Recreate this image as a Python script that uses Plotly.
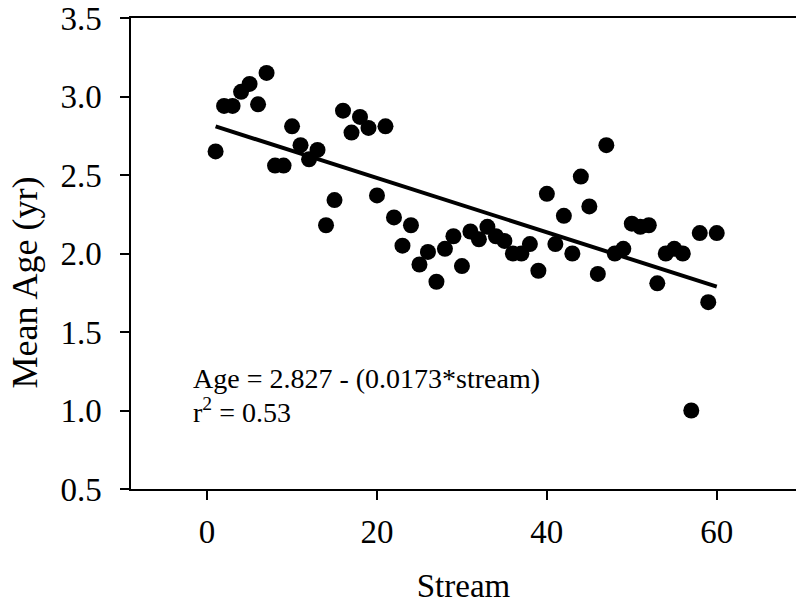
import plotly.graph_objects as go

# Data
stream = list(range(1, 61))
mean_age = [2.65, 2.94, 2.94, 3.03, 3.08, 2.95, 3.15, 2.56, 2.56, 2.81,
            2.69, 2.60, 2.66, 2.18, 2.34, 2.91, 2.77, 2.87, 2.80, 2.37,
            2.81, 2.23, 2.05, 2.18, 1.93, 2.01, 1.82, 2.03, 2.11, 1.92,
            2.14, 2.09, 2.17, 2.11, 2.08, 2.00, 2.00, 2.06, 1.89, 2.38,
            2.06, 2.24, 2.00, 2.49, 2.30, 1.87, 2.69, 2.00, 2.03, 2.19,
            2.17, 2.18, 1.81, 2.00, 2.03, 2.00, 1.00, 2.13, 1.69, 2.13]

intercept = 2.827
slope = -0.0173
fit_x = [stream[0], stream[-1]]
fit_y = [intercept + slope * x for x in fit_x]

x_ticks = [0, 20, 40, 60]
y_ticks = [0.5, 1.0, 1.5, 2.0, 2.5, 3.0, 3.5]
y_tick_text = ["0.5", "1.0", "1.5", "2.0", "2.5", "3.0", "3.5"]

FONT = "Liberation Serif, Times New Roman, serif"

fig = go.Figure()
fig.add_trace(go.Scatter(
    x=stream, y=mean_age, mode="markers",
    marker=dict(size=16, color="black", line=dict(width=0)),
    showlegend=False, hoverinfo="x+y"))
fig.add_trace(go.Scatter(
    x=fit_x, y=fit_y, mode="lines",
    line=dict(color="black", width=4),
    showlegend=False))

fig.add_annotation(x=-1.9, y=1.2055, xref="x", yref="y",
                   text="Age = 2.827 - (0.0173*stream)",
                   showarrow=False, xanchor="left", yanchor="middle",
                   font=dict(family=FONT, size=28, color="black"))
fig.add_annotation(x=-1.9, y=1.0, xref="x", yref="y",
                   text="r<sup>2</sup> = 0.53",
                   showarrow=False, xanchor="left", yanchor="middle",
                   font=dict(family=FONT, size=28, color="black"))

# y-axis title (placed a little below the plot centre, as in the reference)
fig.add_annotation(x=-0.16, y=0.4376, xref="paper", yref="paper",
                   text="Mean Age (yr)", textangle=-90,
                   showarrow=False, xanchor="center", yanchor="middle",
                   font=dict(family=FONT, size=36, color="black"))

fig.update_layout(
    width=796, height=604,
    margin=dict(l=130.5, r=0, t=18.3, b=115, pad=0),
    paper_bgcolor="white", plot_bgcolor="white",
    font=dict(family=FONT, color="black"),
    xaxis=dict(range=[-8.96, 69.33], tickvals=x_ticks,
               automargin=False,
               showgrid=False, zeroline=False,
               showline=True, mirror=True, linecolor="black", linewidth=1.5,
               ticks="outside", ticklen=9, tickwidth=1.5, tickcolor="black",
               ticklabelstandoff=4,
               tickfont=dict(family=FONT, size=33, color="black"),
               title=dict(text="Stream", standoff=28,
                          font=dict(family=FONT, size=33, color="black"))),
    yaxis=dict(range=[0.5, 3.5], tickvals=y_ticks, ticktext=y_tick_text,
               automargin=False,
               showgrid=False, zeroline=False,
               showline=True, mirror=False, linecolor="black", linewidth=1.5,
               ticks="outside", ticklen=9, tickwidth=1.5, tickcolor="black",
               ticklabelstandoff=12,
               tickfont=dict(family=FONT, size=33, color="black")),
)

# remove the default 8px page margin so the figure sits at the window corner
fig.write_html("out.html", config={"displayModeBar": False},
               post_script="document.body.style.margin='0';")
